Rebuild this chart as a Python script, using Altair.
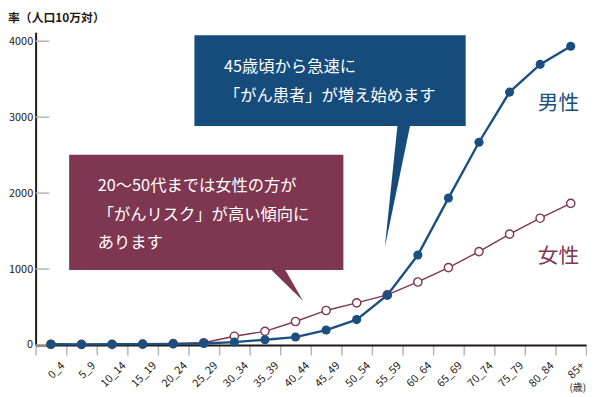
import altair as alt
import pandas as pd

ages = ["0_4", "5_9", "10_14", "15_19", "20_24", "25_29", "30_34", "35_39", "40_44",
        "45_49", "50_54", "55_59", "60_64", "65_69", "70_74", "75_79", "80_84", "85+"]
male = [10, 8, 10, 12, 15, 20, 38, 70, 105, 197, 335, 655, 1185, 1935, 2670, 3330, 3695, 3935]
female = [10, 8, 8, 12, 18, 30, 115, 180, 310, 455, 555, 660, 830, 1020, 1230, 1460, 1670, 1865]
y_ticks = [0, 1000, 2000, 3000, 4000]

FONT = "Noto Sans CJK JP"
DARK = "#231815"
BLUE = "#1a4f7f"
MAROON = "#7e3651"
BOX_BLUE = "#154c7b"
BOX_MAROON = "#7f3650"

df_m = pd.DataFrame({"age": ages, "value": male})
df_f = pd.DataFrame({"age": ages, "value": female})
df_t = pd.DataFrame({"value": y_ticks})

xenc = alt.X("age:N", sort=ages,
             scale=alt.Scale(type="band", paddingInner=0, paddingOuter=0, domain=ages),
             axis=alt.Axis(title=None, labelAngle=-45, labelAlign="right", labelBaseline="middle",
                           labelFont=FONT, labelFontSize=11, labelColor=DARK,
                           labelPadding=9, labelOffset=12,
                           domainColor=DARK, domainWidth=2,
                           tickColor="#b5b5b5", tickWidth=1.5, tickSize=10, tickBand="extent",
                           grid=False))
yscale = alt.Scale(domain=[0, 4117], nice=False, zero=True)
yenc = alt.Y("value:Q", scale=yscale,
             axis=alt.Axis(title=None, values=y_ticks, format="d", ticks=False, tickSize=0,
                           labelFont=FONT, labelFontSize=11, labelColor=DARK, labelPadding=3,
                           domainColor=DARK, domainWidth=2, grid=False))

one = alt.Data(values=[{"k": 1}])

ytick_rules = alt.Chart(df_t).mark_rule(color="#b5b5b5", strokeWidth=1.5).encode(
    y=alt.Y("value:Q", scale=yscale), x=alt.value(0), x2=alt.value(14))

f_line = alt.Chart(df_f).mark_line(color=MAROON, strokeWidth=1.4).encode(x=xenc, y=yenc)
f_pts = alt.Chart(df_f).mark_point(shape="circle", filled=True, fill="white", stroke=MAROON,
                                   strokeWidth=1.4, size=70, opacity=1).encode(x=xenc, y=yenc)
m_line = alt.Chart(df_m).mark_line(color=BLUE, strokeWidth=2.4).encode(x=xenc, y=yenc)
m_pts = alt.Chart(df_m).mark_point(shape="circle", filled=True, color=BLUE, size=85,
                                   opacity=1).encode(x=xenc, y=yenc)

blue_box = alt.Chart(one).mark_rect(color=BOX_BLUE).encode(
    x=alt.value(161), x2=alt.value(436), y=alt.value(3), y2=alt.value(95))
blue_ptr = alt.Chart(one).mark_point(shape="M0,-1L0.208,-1L-0.208,1Z", filled=True,
                                     color=BOX_BLUE, size=15625, opacity=1, strokeWidth=0).encode(
    x=alt.value(367), y=alt.value(155.5))
blue_txt = alt.Chart(one).mark_text(font=FONT, fontSize=16.5, color="white", align="left",
                                    baseline="middle", lineHeight=30).encode(
    x=alt.value(191), y=alt.value(35),
    text=alt.value(["45歳頃から急速に", "「がん患者」が増え始めます"]))

mar_box = alt.Chart(one).mark_rect(color=BOX_MAROON).encode(
    x=alt.value(34), x2=alt.value(312), y=alt.value(124), y2=alt.value(241))
mar_ptr = alt.Chart(one).mark_point(shape="M0,-1L0.909,-1L2.06,1Z", filled=True,
                                    color=BOX_MAROON, size=1089, opacity=1, strokeWidth=0).encode(
    x=alt.value(237), y=alt.value(255.5))
mar_txt = alt.Chart(one).mark_text(font=FONT, fontSize=16.5, color="white", align="left",
                                   baseline="middle", lineHeight=29).encode(
    x=alt.value(63), y=alt.value(156),
    text=alt.value(["20～50代までは女性の方が", "「がんリスク」が高い傾向に", "あります"]))

lbl_m = alt.Chart(one).mark_text(font=FONT, fontSize=21, color=BLUE, align="center",
                                 baseline="middle").encode(
    x=alt.value(530), y=alt.value(73), text=alt.value("男性"))
lbl_f = alt.Chart(one).mark_text(font=FONT, fontSize=21, color=MAROON, align="center",
                                 baseline="middle").encode(
    x=alt.value(530), y=alt.value(228), text=alt.value("女性"))

y_title = alt.Chart(one).mark_text(font=FONT, fontSize=12, fontWeight="bold", color=DARK,
                                   align="left", baseline="middle").encode(
    x=alt.value(-28), y=alt.value(-14), text=alt.value("率（人口10万対）"))
x_unit = alt.Chart(one).mark_text(font=FONT, fontSize=10, color=DARK, align="right",
                                  baseline="middle").encode(
    x=alt.value(558), y=alt.value(361), text=alt.value("(歳)"))

chart = alt.layer(
    ytick_rules, f_line, f_pts, m_line, m_pts,
    mar_box, mar_ptr, mar_txt, blue_box, blue_ptr, blue_txt,
    lbl_m, lbl_f, y_title, x_unit
).properties(
    width=558, height=317,
    autosize=alt.AutoSizeParams(type="none"),
    padding={"left": 28, "top": 22, "right": 1, "bottom": 50},
).configure_view(stroke=None)

chart.save("out.html", embed_options={"renderer": "svg", "actions": False})
